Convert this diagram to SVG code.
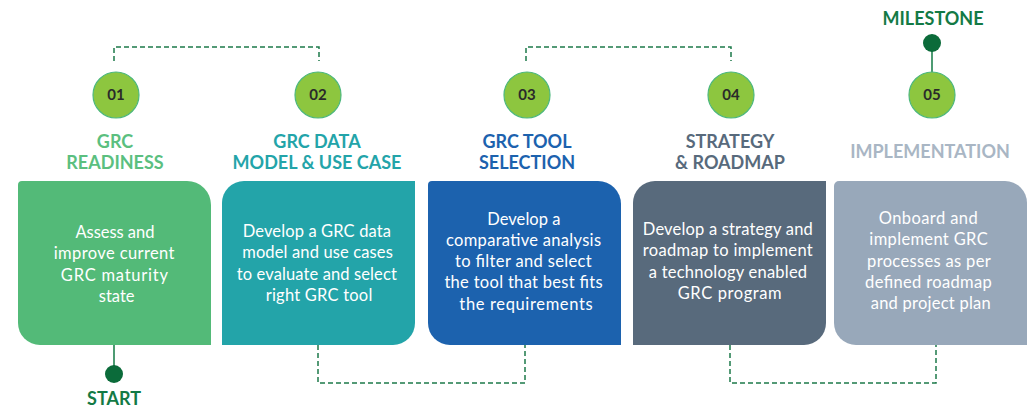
<svg xmlns="http://www.w3.org/2000/svg" width="1031" height="407" viewBox="0 0 1031 407">
<style>
.title{font-family:Lato,"Liberation Sans",sans-serif;font-weight:bold;font-size:18px;text-anchor:middle}
.body{font-family:Lato,"Liberation Sans",sans-serif;font-size:16.5px;fill:#fff;text-anchor:middle}
.num{font-family:Lato,"Liberation Sans",sans-serif;font-size:15px;fill:#2a2a2a;text-anchor:middle;font-weight:bold}
.badge{fill:#8DC63F;stroke:#4DB87E;stroke-width:1.2}
.dash{fill:none;stroke:#1C7A4A;stroke-width:1.5;stroke-dasharray:5 3}
.solid{fill:none;stroke:#137A45;stroke-width:1.5}
.dot{fill:#0B6B3A}
.mark{font-family:Lato,"Liberation Sans",sans-serif;font-weight:bold;font-size:18px;fill:#137A45;text-anchor:middle}
</style>
<rect width="1031" height="407" fill="#fff"/>
<g id="connectors">
<path class="dash" d="M114,61 V47 H319 V61"/>
<path class="dash" d="M526,61 V47 H731 V61"/>
<path class="dash" d="M318,345 V383 H525 V345"/>
<path class="dash" d="M730,345 V383 H936 V345"/>
<path class="solid" d="M114,345 V367"/>
<path class="solid" d="M932,51 V72"/>
</g>
<g id="start">
<circle class="dot" cx="114" cy="374" r="9"/>
<text class="mark" x="114" y="405">START</text>
</g>
<g id="milestone">
<circle class="dot" cx="932" cy="43" r="9"/>
<text class="mark" x="933" y="25">MILESTONE</text>
</g>
<g id="step1">
<circle class="badge" cx="116" cy="95" r="23"/>
<text class="num" x="116" y="100">01</text>
<text class="title" fill="#5BBF7F"><tspan x="115" y="148">GRC</tspan><tspan x="115" y="168.5">READINESS</tspan></text>
<path fill="#53BA78" d="M22,181 H187 A24,24 0 0 1 211,205 V345 H40 A22,22 0 0 1 18,323 V185 A4,4 0 0 1 22,181 Z"/>
<text class="body">
<tspan x="117" y="238" textLength="79" lengthAdjust="spacing">Assess and</tspan>
<tspan x="116.4" y="259.3" textLength="120.7" lengthAdjust="spacing">improve current</tspan>
<tspan x="116.7" y="280.6" textLength="106.7" lengthAdjust="spacing">GRC maturity</tspan>
<tspan x="116.7" y="301.9">state</tspan>
</text>
</g>
<g id="step2">
<circle class="badge" cx="318" cy="95" r="23"/>
<text class="num" x="318" y="100">02</text>
<text class="title" fill="#23A4A9"><tspan x="317" y="148">GRC DATA</tspan><tspan x="317" y="168.5">MODEL &amp; USE CASE</tspan></text>
<path fill="#23A4A9" d="M244,181 H415 V323 A22,22 0 0 1 393,345 H222 V203 A22,22 0 0 1 244,181 Z"/>
<text class="body">
<tspan x="319" y="237" textLength="148.3" lengthAdjust="spacing">Develop a GRC data</tspan>
<tspan x="319.7" y="258.3" textLength="150.7" lengthAdjust="spacing">model and use cases</tspan>
<tspan x="319" y="279.6" textLength="160" lengthAdjust="spacing">to evaluate and select</tspan>
<tspan x="319" y="300.9" textLength="106.7" lengthAdjust="spacing">right GRC tool</tspan>
</text>
</g>
<g id="step3">
<circle class="badge" cx="527" cy="95" r="23"/>
<text class="num" x="527" y="100" font-weight="normal">03</text>
<text class="title" fill="#1C62AE"><tspan x="527" y="148">GRC TOOL</tspan><tspan x="527" y="168.5">SELECTION</tspan></text>
<path fill="#1C62AE" d="M432,181 H598 A23,23 0 0 1 621,204 V345 H450 A22,22 0 0 1 428,323 V185 A4,4 0 0 1 432,181 Z"/>
<text class="body">
<tspan x="526" y="224.5" textLength="73.3" lengthAdjust="spacing">Develop a</tspan>
<tspan x="525.8" y="245.8" textLength="155" lengthAdjust="spacing">comparative analysis</tspan>
<tspan x="525.7" y="267.1" textLength="136.7" lengthAdjust="spacing">to filter and select</tspan>
<tspan x="525.8" y="288.4" textLength="158.3" lengthAdjust="spacing">the tool that best fits</tspan>
<tspan x="526" y="309.7" textLength="133.3" lengthAdjust="spacing">the requirements</tspan>
</text>
</g>
<g id="step4">
<circle class="badge" cx="731" cy="95" r="23"/>
<text class="num" x="731" y="100" font-weight="normal">04</text>
<text class="title" fill="#586A7C"><tspan x="730" y="148">STRATEGY</tspan><tspan x="730" y="168.5">&amp; ROADMAP</tspan></text>
<path fill="#586A7C" d="M655,181 H826 V323 A22,22 0 0 1 804,345 H633 V203 A22,22 0 0 1 655,181 Z"/>
<text class="body">
<tspan x="730" y="235" textLength="170" lengthAdjust="spacing">Develop a strategy and</tspan>
<tspan x="730" y="256.3" textLength="170" lengthAdjust="spacing">roadmap to implement</tspan>
<tspan x="730.2" y="277.6" textLength="158.3" lengthAdjust="spacing">a technology enabled</tspan>
<tspan x="729.7" y="298.9" textLength="104" lengthAdjust="spacing">GRC program</tspan>
</text>
</g>
<g id="step5">
<circle class="badge" cx="932" cy="95" r="23"/>
<text class="num" x="932" y="100" font-weight="normal">05</text>
<text class="title" fill="#A9B6C4" x="930" y="158">IMPLEMENTATION</text>
<path fill="#98A8BA" d="M839,181 H1005 A22,22 0 0 1 1027,203 V345 H856 A22,22 0 0 1 834,323 V186 A5,5 0 0 1 839,181 Z"/>
<text class="body">
<tspan x="930.5" y="224" textLength="99" lengthAdjust="spacing">Onboard and</tspan>
<tspan x="930.8" y="245.3" textLength="118.3" lengthAdjust="spacing">implement GRC</tspan>
<tspan x="931" y="266.6" textLength="123.3" lengthAdjust="spacing">processes as per</tspan>
<tspan x="930.7" y="287.9" textLength="126.7" lengthAdjust="spacing">defined roadmap</tspan>
<tspan x="930.7" y="309.2" textLength="120" lengthAdjust="spacing">and project plan</tspan>
</text>
</g>
</svg>
